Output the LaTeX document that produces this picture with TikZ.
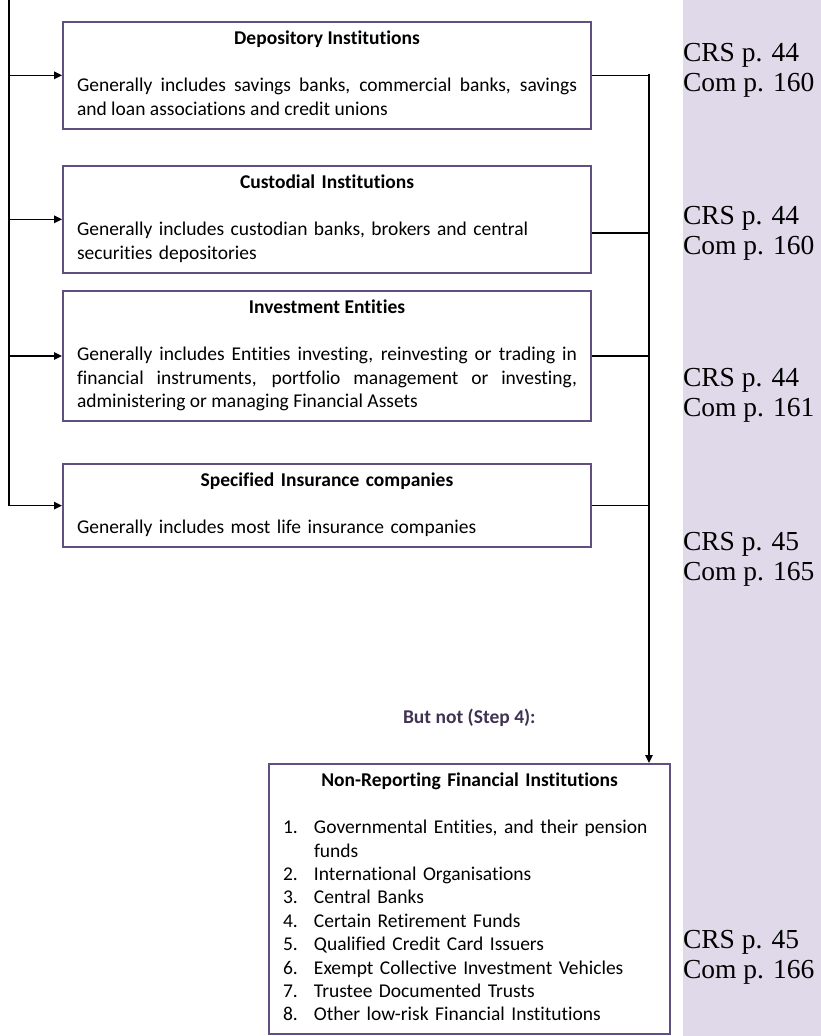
\documentclass[tikz,border=0pt]{standalone}
\usepackage{fontspec}
\setmainfont{Carlito}[Ligatures=CommonOff]
\newfontfamily\refsfont{Liberation Serif}
\usetikzlibrary{arrows.meta}
\newlength{\du}
\setlength{\du}{2\unitlength}

\begin{document}
\begin{tikzpicture}[even odd rule,
  instbox/.style={draw=boxlinecolor, line width=2pt, fill=white, anchor=north west,
    inner xsep=14pt, inner ysep=6.5pt, text width=500pt,
    font=\fontsize{19.5}{23.4}\selectfont},
  link/.style={draw=black, line width=1.4pt},
  linkarrow/.style={link, -{Triangle[length=8pt,width=7.5pt]}},
  stepnote/.style={anchor=base west, inner sep=0pt, outer sep=0pt, text=steptextcolor,
    font=\fontsize{19.5}{23.4}\selectfont\bfseries},
  pageref/.style={anchor=west, inner sep=0pt, outer sep=0pt, align=left,
    font=\refsfont\fontsize{27.5}{30}\selectfont}]
\pgftransformxscale{0.500000}
\pgftransformyscale{-0.500000}
\definecolor{panelfillcolor}{rgb}{0.878431, 0.850980, 0.913725}
\definecolor{boxlinecolor}{rgb}{0.376471, 0.313725, 0.501961}
\definecolor{steptextcolor}{rgb}{0.250980, 0.196078, 0.321569}
\useasboundingbox (0.000000\du,0.000000\du) rectangle (821.000000\du,1036.000000\du);
\clip (0.000000\du,0.000000\du) rectangle (821.000000\du,1036.000000\du);
% reference column
\fill[panelfillcolor] (683.000000\du,0.000000\du) rectangle (821.000000\du,1036.000000\du);
% institution boxes
\node[instbox, align=justify] (dep) at (62.000000\du,21.000000\du){{\centering\bfseries\strut Depository Institutions\par}\vspace{23.4pt}Generally includes savings banks, commercial banks, savings\linebreak and loan associations and credit unions\strut};
\node[instbox, align=left] (cust) at (62.000000\du,165.000000\du){{\centering\bfseries\strut Custodial Institutions\par}\vspace{23.4pt}Generally includes custodian banks, brokers and central\newline securities depositories\strut};
\node[instbox, align=justify] (inv) at (62.000000\du,290.000000\du){{\centering\bfseries\strut Investment Entities\par}\vspace{23.4pt}Generally includes Entities investing, reinvesting or trading in\linebreak financial instruments, portfolio management or investing,\linebreak administering or managing Financial Assets\strut};
\node[instbox, align=left] (ins) at (62.000000\du,463.000000\du){{\centering\bfseries\strut Specified Insurance companies\par}\vspace{23.4pt}Generally includes most life insurance companies\strut};
\node[instbox, align=left, text width=373pt] (nonrep) at (268.000000\du,763.000000\du){{\centering\bfseries\strut Non-Reporting Financial Institutions\par}\vspace{23.4pt}%
\makebox[31pt][l]{1.}Governmental Entities, and their pension\\
\hspace*{31pt}funds\\
\makebox[31pt][l]{2.}International Organisations\\
\makebox[31pt][l]{3.}Central Banks\\
\makebox[31pt][l]{4.}Certain Retirement Funds\\
\makebox[31pt][l]{5.}Qualified Credit Card Issuers\\
\makebox[31pt][l]{6.}Exempt Collective Investment Vehicles\\
\makebox[31pt][l]{7.}Trustee Documented Trusts\\
\makebox[31pt][l]{8.}Other low-risk Financial Institutions\strut\par\vspace*{40pt}};
\node[stepnote] (stepfour) at (403.000000\du,723.000000\du){But not (Step 4):};
% connectors
\coordinate (ltop) at (9.000000\du,0.000000\du);
\coordinate (rbus) at (649.000000\du,74.000000\du);
\draw[link] (ltop) -- (ltop |- ins.west);
\draw[linkarrow] (ltop |- dep.west) -- (dep.west);
\draw[linkarrow] (ltop |- cust.west) -- (cust.west);
\draw[linkarrow] (ltop |- inv.west) -- (inv.west);
\draw[linkarrow] (ltop |- ins.west) -- (ins.west);
\draw[link] (dep.east) -| (rbus);
\draw[link] (cust.-3) -| (rbus);
\draw[link] (inv.east) -| (rbus);
\draw[link] (ins.east) -| (rbus);
\draw[linkarrow] (rbus) -- (rbus |- nonrep.north);
% page references
\node[pageref] (refdep) at (683.000000\du,70.000000\du){CRS p. 44\\Com p. 160};
\node[pageref] (refcust) at (683.000000\du,233.000000\du){CRS p. 44\\Com p. 160};
\node[pageref] (refinv) at (683.000000\du,395.000000\du){CRS p. 44\\Com p. 161};
\node[pageref] (refins) at (683.000000\du,559.000000\du){CRS p. 45\\Com p. 165};
\node[pageref] (refnonrep) at (683.000000\du,957.000000\du){CRS p. 45\\Com p. 166};
\end{tikzpicture}
\end{document}
